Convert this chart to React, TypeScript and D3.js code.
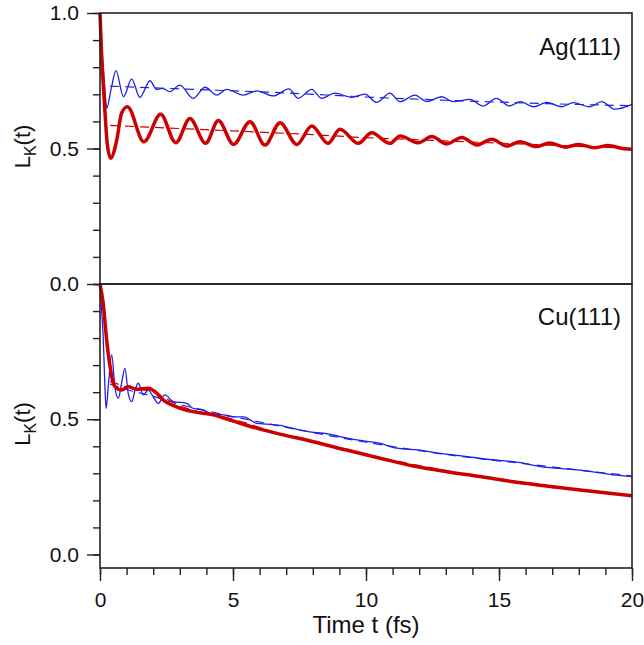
import { useEffect, useRef } from 'react';
import * as d3 from 'd3';

// ---------- Ag(111) ----------
const agRedT = [0, 0.06, 0.12, 0.19, 0.27, 0.4, 0.63, 0.81, 1.03, 1.65, 2.28, 2.85, 3.38, 3.97, 4.45, 5.02, 5.64, 6.2, 6.77, 7.4, 7.96, 8.57, 9.02, 9.71, 10.21, 10.9, 11.28, 11.97, 12.47, 13.03, 13.6, 14.16, 14.73, 15.29, 15.79, 16.4, 16.9, 17.5, 18.0, 18.6, 19.1, 19.7, 20];
const agRedV = [1.0, 0.85, 0.74, 0.63, 0.52, 0.464, 0.531, 0.63, 0.654, 0.525, 0.626, 0.521, 0.611, 0.519, 0.603, 0.515, 0.599, 0.513, 0.595, 0.515, 0.583, 0.519, 0.571, 0.519, 0.558, 0.519, 0.546, 0.521, 0.544, 0.517, 0.541, 0.513, 0.534, 0.509, 0.525, 0.507, 0.52, 0.505, 0.515, 0.503, 0.511, 0.499, 0.497];

const agBlueT = [0, 0.06, 0.12, 0.19, 0.25, 0.42, 0.6, 0.88, 1.19, 1.5, 1.88, 2.13, 2.35, 2.63, 3.0, 3.5, 3.95, 4.39, 4.76, 5.39, 5.89, 6.52, 7.1, 7.45, 7.96, 8.33, 8.83, 9.46, 9.96, 10.4, 10.9, 11.28, 11.84, 12.28, 12.85, 13.28, 13.9, 14.4, 14.9, 15.4, 15.8, 16.3, 16.8, 17.35, 17.8, 18.4, 18.86, 19.36, 20];
const agBlueV = [1.0, 0.88, 0.8, 0.71, 0.648, 0.72, 0.787, 0.691, 0.756, 0.689, 0.75, 0.718, 0.722, 0.71, 0.734, 0.685, 0.726, 0.697, 0.718, 0.697, 0.713, 0.694, 0.72, 0.685, 0.718, 0.685, 0.704, 0.689, 0.701, 0.67, 0.704, 0.673, 0.697, 0.673, 0.691, 0.673, 0.681, 0.657, 0.685, 0.657, 0.673, 0.654, 0.67, 0.654, 0.669, 0.654, 0.673, 0.645, 0.663];

const agRedFitT = [0.38, 2, 5, 8, 10, 12, 15, 18, 20];
const agRedFitV = [0.585, 0.578, 0.565, 0.551, 0.54, 0.532, 0.52, 0.508, 0.5];
const agBlueFitT = [0.38, 3, 7, 10, 13, 17, 20];
const agBlueFitV = [0.73, 0.72, 0.705, 0.69, 0.678, 0.665, 0.658];

// ---------- Cu(111) ----------
const cuRedT = [0, 0.12, 0.25, 0.38, 0.5, 0.63, 0.81, 1.06, 1.38, 1.82, 2.07, 2.38, 2.88, 3.5, 4.26, 4.89, 5.89, 6.77, 8.02, 9.27, 10.53, 11.78, 13.03, 14.29, 15.54, 16.79, 18.05, 20];
const cuRedV = [1.0, 0.929, 0.793, 0.694, 0.633, 0.614, 0.608, 0.62, 0.611, 0.615, 0.602, 0.571, 0.546, 0.528, 0.516, 0.497, 0.467, 0.445, 0.417, 0.386, 0.356, 0.327, 0.306, 0.288, 0.269, 0.253, 0.238, 0.217];

const cuBlueT = [0, 0.06, 0.12, 0.18, 0.23, 0.33, 0.44, 0.56, 0.69, 0.81, 0.94, 1.06, 1.19, 1.32, 1.44, 1.63, 1.82, 2.0, 2.19, 2.44, 2.76, 3.26, 3.5, 3.89, 4.14, 4.64, 5.0, 5.39, 5.89, 6.27, 6.77, 7.52, 8.15, 8.46, 9.02, 9.71, 10.53, 11.15, 12.03, 12.78, 13.66, 14.54, 15.54, 16.79, 18.05, 19.3, 20];
const cuBlueV = [1.0, 0.904, 0.805, 0.633, 0.54, 0.645, 0.738, 0.62, 0.577, 0.633, 0.688, 0.596, 0.565, 0.608, 0.633, 0.59, 0.608, 0.583, 0.559, 0.59, 0.565, 0.559, 0.54, 0.534, 0.522, 0.516, 0.509, 0.509, 0.485, 0.482, 0.477, 0.46, 0.45, 0.448, 0.436, 0.423, 0.411, 0.393, 0.386, 0.374, 0.364, 0.352, 0.343, 0.322, 0.312, 0.294, 0.288];

const cuRedFitT = [0.38, 1, 2, 3, 5, 7, 10, 13, 16, 20];
const cuRedFitV = [0.64, 0.62, 0.6, 0.55, 0.5, 0.44, 0.37, 0.31, 0.26, 0.22];
const cuBlueFitT = [0.38, 1, 2, 3, 5, 7, 10, 13, 16, 20];
const cuBlueFitV = [0.63, 0.61, 0.585, 0.555, 0.51, 0.47, 0.415, 0.37, 0.335, 0.29];

const xMajor = [0, 5, 10, 15, 20];
const yMajorTop = [0, 0.5, 1.0];
const yMajorBottom = [0, 0.5];

const RED = '#cc0000';
const BLUE = '#1f1fe6';
const FONT = '"Liberation Sans", Arial, sans-serif';

const App = () => {
    const svgRef = useRef(null);

    useEffect(() => {
        const svg = d3.select(svgRef.current);
        svg.selectAll('*').remove();

        const width = 644;
        const height = 645;
        const left = 100;
        const right = 632;
        const panels = [
            { top: 13, bottom: 284, domain: [0, 1], label: 'Ag(111)', labelY: 55, majors: yMajorTop,
              red: [agRedT, agRedV], blue: [agBlueT, agBlueV], redFit: [agRedFitT, agRedFitV], blueFit: [agBlueFitT, agBlueFitV] },
            { top: 284, bottom: 568, domain: [-0.05, 1], label: 'Cu(111)', labelY: 325, majors: yMajorBottom,
              red: [cuRedT, cuRedV], blue: [cuBlueT, cuBlueV], redFit: [cuRedFitT, cuRedFitV], blueFit: [cuBlueFitT, cuBlueFitV] },
        ];

        svg.attr('width', width).attr('height', height);

        const x = d3.scaleLinear().domain([0, 20]).range([left, right]);

        panels.forEach((p) => {
            const y = d3.scaleLinear().domain(p.domain).range([p.bottom, p.top]);
            const zip = (ts, vs) => ts.map((t, i) => [t, vs[i]]);
            const line = d3.line()
                .x((d) => x(d[0]))
                .y((d) => y(d[1]))
                .curve(d3.curveMonotoneX);

            // fits (dashed)
            svg.append('path')
                .attr('d', line(zip(...p.blueFit)))
                .attr('fill', 'none')
                .attr('stroke', BLUE)
                .attr('stroke-width', 1.2)
                .attr('stroke-dasharray', '9,6');
            svg.append('path')
                .attr('d', line(zip(...p.redFit)))
                .attr('fill', 'none')
                .attr('stroke', RED)
                .attr('stroke-width', 1.2)
                .attr('stroke-dasharray', '9,6');

            // data
            svg.append('path')
                .attr('d', line(zip(...p.blue)))
                .attr('fill', 'none')
                .attr('stroke', BLUE)
                .attr('stroke-width', 1.3);
            svg.append('path')
                .attr('d', line(zip(...p.red)))
                .attr('fill', 'none')
                .attr('stroke', RED)
                .attr('stroke-width', 3.5)
                .attr('stroke-linejoin', 'round');

            // y axis minor ticks
            const minor = svg.append('g')
                .attr('transform', `translate(${left},0)`)
                .call(d3.axisLeft(y).tickValues(d3.range(0, 1.001, 0.1)).tickSize(7).tickFormat(''));
            minor.select('.domain').remove();

            const major = svg.append('g')
                .attr('transform', `translate(${left},0)`)
                .call(d3.axisLeft(y).tickValues(p.majors).tickSize(13).tickPadding(8).tickFormat(d3.format('.1f')));
            major.select('.domain').remove();
            major.selectAll('text')
                .style('font-family', FONT)
                .style('font-size', '21px')
                .attr('fill', '#111');

            svg.selectAll('.tick line').attr('stroke', '#222').attr('stroke-width', 1.4);

            // frame
            svg.append('rect')
                .attr('x', left)
                .attr('y', p.top)
                .attr('width', right - left)
                .attr('height', p.bottom - p.top)
                .attr('fill', 'none')
                .attr('stroke', '#222')
                .attr('stroke-width', 1.6);

            // panel label
            svg.append('text')
                .attr('x', 621)
                .attr('y', p.labelY)
                .attr('text-anchor', 'end')
                .style('font-family', FONT)
                .style('font-size', '24px')
                .attr('fill', '#111')
                .text(p.label);

            // y label L_K(t)
            const cy = (p.top + p.bottom) / 2 - 2;
            const yl = svg.append('text')
                .attr('transform', `translate(30,${cy}) rotate(-90)`)
                .attr('text-anchor', 'middle')
                .style('font-family', FONT)
                .style('font-size', '22px')
                .attr('fill', '#111');
            yl.append('tspan').text('L');
            yl.append('tspan').attr('dy', 6).style('font-size', '16px').text('K');
            yl.append('tspan').attr('dy', -6).text('(t)');
        });

        // x axis
        const xMinor = svg.append('g')
            .attr('transform', 'translate(0,568)')
            .call(d3.axisBottom(x).tickValues(d3.range(0, 20.001, 1)).tickSize(7).tickFormat(''));
        xMinor.select('.domain').remove();
        const xMaj = svg.append('g')
            .attr('transform', 'translate(0,568)')
            .call(d3.axisBottom(x).tickValues(xMajor).tickSize(13).tickPadding(11).tickFormat(d3.format('d')));
        xMaj.select('.domain').remove();
        xMaj.selectAll('text')
            .style('font-family', FONT)
            .style('font-size', '21px')
            .attr('fill', '#111');
        svg.selectAll('.tick line').attr('stroke', '#222').attr('stroke-width', 1.4);

        svg.append('text')
            .attr('x', (left + right) / 2)
            .attr('y', 633)
            .attr('text-anchor', 'middle')
            .style('font-family', FONT)
            .style('font-size', '24px')
            .attr('fill', '#111')
            .text('Time t (fs)');
    }, []);

    return (
        <svg
            ref={svgRef}
            style={{ position: 'absolute', left: 0, top: 0, background: '#fff' }}
        ></svg>
    );
};

export default App;
